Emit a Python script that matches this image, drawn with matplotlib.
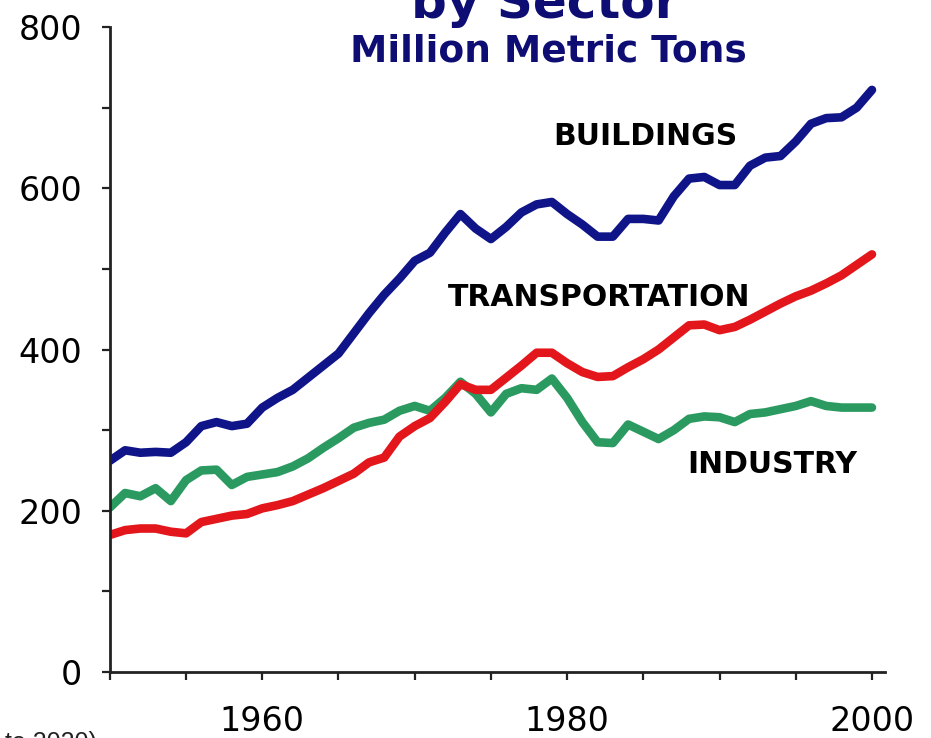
import matplotlib
matplotlib.use('Agg')
import matplotlib.pyplot as plt

# CO2 emissions by sector, million metric tons
years = list(range(1950, 2001))

buildings = [262, 275, 272, 273, 272, 285, 305, 310, 305, 308,
             328, 340, 350, 365, 380, 395, 420, 445, 468, 488,
             510, 520, 545, 568, 550, 537, 552, 570, 580, 583,
             568, 555, 540, 540, 562, 562, 560, 590, 612, 614,
             604, 604, 628, 638, 640, 658, 680, 687, 688, 700,
             722]

transportation = [170, 176, 178, 178, 174, 172, 186, 190, 194, 196,
                  203, 207, 212, 220, 228, 237, 246, 260, 266, 292,
                  305, 315, 335, 357, 350, 350, 365, 380, 396, 396,
                  383, 372, 366, 367, 378, 388, 400, 415, 430, 431,
                  424, 428, 437, 447, 457, 466, 473, 482, 492, 505,
                  518]

industry = [204, 222, 218, 228, 212, 238, 250, 251, 232, 242,
            245, 248, 255, 265, 278, 290, 303, 309, 313, 324,
            330, 324, 340, 360, 345, 322, 345, 352, 350, 364,
            340, 310, 285, 284, 307, 298, 289, 300, 314, 317,
            316, 310, 320, 322, 326, 330, 336, 330, 328, 328,
            328]

x_ticks = list(range(1950, 2001, 5))
x_labels = ['', '', '1960', '', '', '', '1980', '', '', '', '2000']
y_ticks = list(range(0, 801, 100))
y_labels = ['0', '', '200', '', '400', '', '600', '', '800']

navy = '#0d0d73'

fig = plt.figure(figsize=(9.31, 7.38), dpi=100)
ax = fig.add_axes([0.118, 0.0894, 0.8325, 0.874])

ax.plot(years, buildings, color='#0f1489', lw=6.2, solid_joinstyle='round', solid_capstyle='round')
ax.plot(years, industry, color='#2b9a60', lw=6.2, solid_joinstyle='round', solid_capstyle='round')
ax.plot(years, transportation, color='#e3161b', lw=6.2, solid_joinstyle='round', solid_capstyle='round')

ax.set_xlim(1950, 2000.85)
ax.set_ylim(0, 800)
ax.set_xticks(x_ticks)
ax.set_xticklabels(x_labels)
ax.set_yticks(y_ticks)
ax.set_yticklabels(y_labels)

for s in ['top', 'right']:
    ax.spines[s].set_visible(False)
for s in ['left', 'bottom']:
    ax.spines[s].set_linewidth(2)
    ax.spines[s].set_color('#222222')
ax.tick_params(axis='both', direction='out', length=6, width=1.6, color='#222222',
               labelsize=24, labelcolor='black')
ax.tick_params(axis='x', pad=18)
ax.tick_params(axis='y', pad=14)

# series labels
ax.text(1979.1, 664, 'BUILDINGS', fontsize=21.5, fontweight='bold', va='center', ha='left')
ax.text(1972.2, 465, 'TRANSPORTATION', fontsize=21.5, fontweight='bold', va='center', ha='left')
ax.text(1987.9, 257, 'INDUSTRY', fontsize=21.5, fontweight='bold', va='center', ha='left')

# title (top line is cut off by the frame)
fig.text(545 / 931, (738 - 18) / 738, 'by Sector', fontsize=36, fontweight='bold',
         color=navy, ha='center', va='baseline')
fig.text(548 / 931, (738 - 51) / 738, 'Million Metric Tons', fontsize=27, fontweight='bold',
         color=navy, ha='center', va='center')

# partly cut source note at bottom left
fig.text(97 / 931, -12 / 738, 'to 2020)', fontsize=18, family='Liberation Sans',
         color='#222222', ha='right', va='baseline')

fig.savefig('out.png', dpi=100)
